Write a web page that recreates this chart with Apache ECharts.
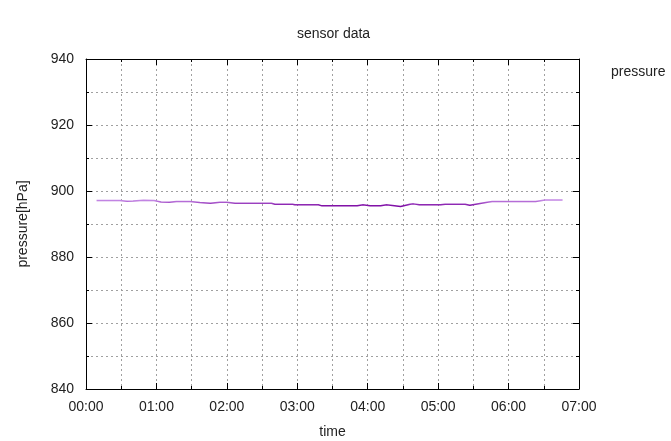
<!DOCTYPE html>
<html>
<head>
<meta charset="utf-8">
<script src="https://cdn.jsdelivr.net/npm/echarts@6/dist/echarts.min.js"></script>
<style>html,body{margin:0;padding:0;background:#fff}#c{width:671px;height:441px}</style>
</head>
<body>
<div id="c"></div>
<script>
// time of day (HH:MM) and pressure [hPa]
var times = ["00:09","00:29","00:35","00:40","00:49","00:58","01:04","01:11","01:17","01:29","01:37","01:46","01:54","02:00","02:07","02:38","02:41","02:56","02:58","03:18","03:21","03:25","03:34","03:42","03:51","03:56","04:02","04:11","04:16","04:28","04:36","04:39","04:44","05:02","05:06","05:23","05:27","05:43","05:46","06:23","06:31","06:46"];
var pressure = [897.1,897.1,896.9,897.0,897.2,897.1,896.7,896.6,896.8,896.8,896.5,896.3,896.6,896.6,896.3,896.3,896.0,896.0,895.85,895.85,895.5,895.5,895.5,895.5,895.5,895.85,895.5,895.5,895.85,895.3,896.0,896.1,895.8,895.8,896.0,896.0,895.7,896.7,896.8,896.8,897.3,897.3];
var xTickLabels = ["00:00","01:00","02:00","03:00","04:00","05:00","06:00","07:00"];
var yTicks = [840,860,880,900,920,940];

function toMin(t){var p=t.split(":");return (+p[0])*60+(+p[1]);}
var seriesData = times.map(function(t,i){return [toMin(t), pressure[i]];});

var font = "Liberation Sans, Arial, sans-serif";
var gridLine = {show:true, lineStyle:{color:"#a0a0a0", type:[2,3], width:1}};
var chart = echarts.init(document.getElementById('c'), null, {renderer:'canvas'});
chart.setOption({
  backgroundColor:"#ffffff",
  animation:false,
  title:{text:"sensor data", left:292, top:22, textStyle:{fontFamily:font,fontSize:14,fontWeight:"normal",color:"#222"}},
  legend:{data:[{name:"pressure", icon:"none"}], left:601, top:60, itemWidth:0, itemGap:0,
          textStyle:{fontFamily:font,fontSize:14,color:"#222"}},
  grid:{left:86, right:92, top:59, bottom:52, show:false, outerBoundsMode:"none", containLabel:false},
  visualMap:{show:false, type:"continuous", dimension:1, min:895.5, max:897.2, seriesIndex:0,
             inRange:{color:["#7d0aa3","#c58ae6"]}},
  xAxis:[{
    type:"value", min:0, max:420, interval:60, name:"time", nameLocation:"middle", nameGap:36,
    nameTextStyle:{fontFamily:font,fontSize:14,color:"#222"},
    axisLine:{show:true,onZero:false,lineStyle:{color:"#000",width:1}},
    axisTick:{show:true,inside:true,length:6,lineStyle:{color:"#000"}},
    minorTick:{show:true,splitNumber:2,length:3,lineStyle:{color:"#000"}},
    axisLabel:{fontFamily:font,fontSize:14,color:"#222",margin:11,
      formatter:function(v){return xTickLabels[Math.round(v/60)];}},
    splitLine:gridLine, minorSplitLine:gridLine
  },{
    type:"value", position:"top", min:0, max:420, interval:60,
    axisLine:{show:true,onZero:false,lineStyle:{color:"#000",width:1}},
    axisTick:{show:true,inside:true,length:6,lineStyle:{color:"#000"}},
    minorTick:{show:true,splitNumber:2,length:3,lineStyle:{color:"#000"}},
    axisLabel:{show:false}, splitLine:{show:false}
  }],
  yAxis:[{
    type:"value", min:yTicks[0], max:yTicks[yTicks.length-1], interval:20,
    name:"pressure[hPa]", nameLocation:"middle", nameGap:56, nameRotate:90,
    nameTextStyle:{fontFamily:font,fontSize:14,color:"#222"},
    axisLine:{show:true,onZero:false,lineStyle:{color:"#000",width:1}},
    axisTick:{show:true,inside:true,length:6,lineStyle:{color:"#000"}},
    minorTick:{show:true,splitNumber:2,length:3,lineStyle:{color:"#000"}},
    axisLabel:{fontFamily:font,fontSize:14,color:"#222",margin:12},
    splitLine:gridLine, minorSplitLine:gridLine
  },{
    type:"value", position:"right", min:yTicks[0], max:yTicks[yTicks.length-1], interval:20,
    axisLine:{show:true,onZero:false,lineStyle:{color:"#000",width:1}},
    axisTick:{show:true,inside:true,length:6,lineStyle:{color:"#000"}},
    minorTick:{show:true,splitNumber:2,length:3,lineStyle:{color:"#000"}},
    axisLabel:{show:false}, splitLine:{show:false}
  }],
  series:[{
    name:"pressure", type:"line", data:seriesData, showSymbol:false, symbol:"none",
    lineStyle:{width:1.5}, itemStyle:{color:"#9400d3"}
  }]
});
</script>
</body>
</html>
